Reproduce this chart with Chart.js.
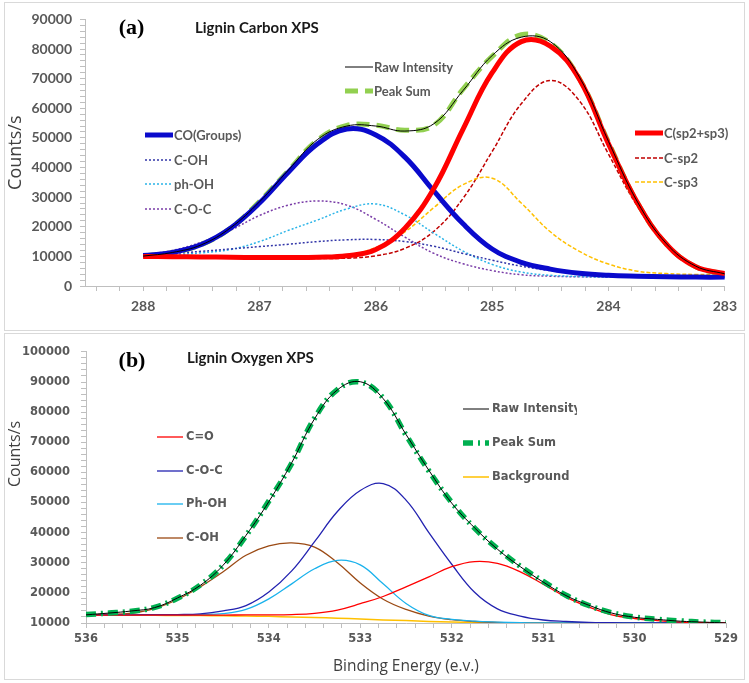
<!DOCTYPE html>
<html>
<head>
<meta charset="utf-8">
<script src="https://cdn.jsdelivr.net/npm/chart.js@4.4.1/dist/chart.umd.min.js"></script>
<style>
  html, body { margin: 0; padding: 0; background: #fff; }
  body { width: 749px; height: 683px; position: relative; overflow: hidden; }
  .panel { position: absolute; left: 4px; width: 741px; border: 1px solid #d9d9d9; box-sizing: border-box; background: #fff; }
  #panelA { top: 2px; height: 329px; }
  #panelB { top: 333px; height: 347px; }
  canvas { display: block; }
</style>
</head>
<body>
<div class="panel" id="panelA"><canvas id="carbonChart" width="739" height="327"></canvas></div>
<div class="panel" id="panelB"><canvas id="oxygenChart" width="739" height="345"></canvas></div>
<script>
// ---- (a) Lignin Carbon XPS, binding energy (eV) ----
const carbonEnergy = [288, 287.75, 287.5, 287.25, 287, 286.75, 286.5, 286.25, 286, 285.75, 285.5,
  285.25, 285, 284.75, 284.5, 284.25, 284, 283.75, 283.5, 283.25, 283];
const carbonRaw = [10100, 11300, 13900, 19600, 28400, 39200, 49500, 54000, 54000, 52300, 54800,
  66000, 77800, 84000, 82500, 70500, 48800, 28300, 14200, 6700, 4100];
const carbonPeakSum = [10200, 11200, 14000, 19500, 28500, 39000, 49300, 54200, 54300, 52600, 54300,
  66500, 77500, 84800, 82000, 70000, 48500, 28000, 14000, 6500, 4000];
const carbonCOGroups = [10300, 11300, 14000, 19500, 28000, 38500, 48000, 53000, 51000, 43500, 32000,
  21000, 12500, 8000, 5700, 4300, 3600, 3300, 3100, 3000, 3000];
const carbonCOH = [10500, 11000, 11700, 12500, 13300, 14100, 15000, 15600, 15700, 15000, 13400,
  11000, 8700, 6700, 5200, 4200, 3600, 3300, 3100, 3000, 3000];
const carbonPhOH = [10100, 10500, 11200, 12300, 15000, 18800, 22300, 26000, 27700, 24000, 17800,
  11800, 7300, 4700, 3600, 3200, 3000, 3000, 3000, 3000, 3000];
const carbonCOC = [10500, 12000, 14800, 18800, 23800, 27300, 28700, 27300, 22500, 16500, 11000,
  7500, 5200, 3800, 3300, 3100, 3000, 3000, 3000, 3000, 3000];
const carbonSp2Sp3 = [10000, 9900, 9800, 9700, 9600, 9600, 9700, 10200, 12300, 19500, 33000,
  53000, 72000, 82500, 81000, 69800, 48000, 28000, 14000, 6500, 4200];
const carbonSp2 = [9800, 9700, 9600, 9500, 9400, 9300, 9300, 9400, 10200, 12700, 18500,
  29600, 45400, 61500, 69400, 62500, 44500, 26800, 13600, 6200, 3900];
const carbonSp3 = [9700, 9700, 9600, 9600, 9600, 9600, 9800, 10300, 13000, 18300, 26500,
  34200, 36400, 28000, 18300, 11700, 7400, 5000, 4200, 3900, 3800];

// ---- (b) Lignin Oxygen XPS ----
const oxygenEnergy = [536, 535.75, 535.5, 535.25, 535, 534.75, 534.5, 534.25, 534, 533.75, 533.5,
  533.25, 533, 532.75, 532.5, 532.25, 532, 531.75, 531.5, 531.25, 531, 530.75, 530.5, 530.25,
  530, 529.75, 529.5, 529.25, 529];
const oxygenRaw = [12700, 13300, 14000, 15100, 18300, 22500, 29200, 39100, 50300, 63200, 77800,
  87400, 90100, 84500, 72600, 60700, 49800, 41600, 34500, 28700, 23600, 19100, 15900, 13300,
  11900, 11200, 10600, 10300, 10000];
const oxygenPeakSum = [12800, 13300, 13900, 15200, 18200, 22600, 29200, 39000, 50500, 63000, 78000,
  87500, 90000, 84700, 72400, 60500, 50000, 41500, 34700, 28800, 23800, 19200, 15800, 13400,
  12000, 11200, 10700, 10300, 10100];
const oxygenCdO = [12600, 12600, 12600, 12600, 12600, 12600, 12600, 12700, 12700, 12800, 13200,
  14300, 16400, 18800, 22000, 25300, 28700, 30400, 29800, 27000, 22900, 18600, 15300, 12700,
  11500, 10800, 10300, 10100, 10000];
const oxygenCOC = [12700, 12700, 12700, 12800, 12800, 13000, 14000, 15800, 20300, 27300, 37000,
  47000, 54000, 56300, 50800, 40000, 29500, 20200, 14700, 12300, 11000, 10500, 10200, 10100,
  10000, 10000, 10000, 10000, 10000];
const oxygenPhOH = [12700, 12700, 12700, 12700, 12700, 12800, 13100, 14500, 18000, 23000, 28000,
  30800, 29300, 23000, 16500, 12500, 11200, 10600, 10300, 10100, 10000, 10000, 10000, 10000,
  10000, 10000, 10000, 10000, 10000];
const oxygenCOH = [12800, 12900, 13300, 14800, 17800, 22000, 27000, 32500, 35600, 36600, 35200,
  30000, 23300, 17900, 14500, 12300, 11100, 10500, 10200, 10100, 10000, 10000, 10000, 10000,
  10000, 10000, 10000, 10000, 10000];
const oxygenBackground = [12600, 12600, 12600, 12550, 12500, 12450, 12400, 12300, 12200, 12000, 11800,
  11600, 11300, 11000, 10800, 10500, 10300, 10200, 10100, 10050, 10000, 10000, 10000, 10000,
  10000, 10000, 10000, 10000, 10000];

Chart.defaults.font.family = "Lato";
Chart.defaults.animation = false;

function points(xs, ys) {
  return xs.map((x, i) => ({ x: x, y: ys[i] }));
}

function line(label, xs, ys, color, width, dash) {
  return {
    label: label,
    data: points(xs, ys),
    borderColor: color,
    backgroundColor: color,
    borderWidth: width,
    borderDash: dash || [],
    pointRadius: 0,
    fill: false,
    tension: 0.4,
  };
}

function isWhole(v) {
  return Math.abs(v - Math.round(v)) < 1e-6;
}

// draws the in-plot labels and the Excel style legend blocks
function notesPlugin(cfg) {
  return {
    id: "notes",
    afterDatasetsDraw(chart) {
      const ctx = chart.ctx;
      ctx.save();
      ctx.textBaseline = "middle";
      cfg.texts.forEach((t) => {
        ctx.save();
        ctx.font = t.font;
        ctx.fillStyle = t.color;
        ctx.textAlign = t.align || "left";
        ctx.translate(t.x, t.y);
        if (t.rotate) ctx.rotate(t.rotate);
        ctx.fillText(t.text, 0, 0);
        ctx.restore();
      });
      cfg.legend.forEach((item) => {
        const ds = chart.data.datasets[item.index];
        ctx.save();
        ctx.beginPath();
        ctx.setLineDash(ds.borderDash || []);
        ctx.lineWidth = ds.borderWidth;
        ctx.strokeStyle = ds.borderColor;
        ctx.moveTo(item.x, item.y);
        ctx.lineTo(item.x + cfg.sample, item.y);
        ctx.stroke();
        ctx.setLineDash([]);
        if (item.clip) {
          ctx.beginPath();
          ctx.rect(0, 0, item.clip, chart.height);
          ctx.clip();
        }
        ctx.font = cfg.legendFont;
        ctx.fillStyle = "#595959";
        ctx.textAlign = "left";
        ctx.fillText(ds.label, item.x + cfg.sample + cfg.gap, item.y + 0.5);
        ctx.restore();
      });
      ctx.restore();
    },
  };
}

function axis(opts) {
  return {
    type: "linear",
    min: opts.min,
    max: opts.max,
    reverse: !!opts.reverse,
    afterFit: opts.fit,
    ticks: {
      stepSize: opts.step,
      autoSkip: false,
      maxRotation: 0,
      includeBounds: false,
      padding: opts.pad,
      color: "#595959",
      font: opts.font,
      callback: opts.label,
    },
    grid: { drawOnChartArea: false, tickLength: 5, color: "#BFBFBF" },
    border: { color: "#BFBFBF" },
    title: opts.title || { display: false },
  };
}

// ---------- chart (a) ----------
const tickFontA = { family: "Lato", size: 14, weight: "bold" };
new Chart(document.getElementById("carbonChart").getContext("2d"), {
  type: "line",
  data: {
    datasets: [
      line("Raw Intensity", carbonEnergy, carbonRaw, "#000000", 1),
      line("C(sp2+sp3)", carbonEnergy, carbonSp2Sp3, "#FF0000", 5),
      line("CO(Groups)", carbonEnergy, carbonCOGroups, "#0A0ACC", 5),
      line("Peak Sum", carbonEnergy, carbonPeakSum, "#92D050", 5, [13, 7]),
      line("C-sp3", carbonEnergy, carbonSp3, "#FFC000", 1.5, [4, 2]),
      line("C-OH", carbonEnergy, carbonCOH, "#3236A8", 1.5, [2, 2]),
      line("ph-OH", carbonEnergy, carbonPhOH, "#2AB4E8", 1.5, [2, 2]),
      line("C-O-C", carbonEnergy, carbonCOC, "#7A3DA8", 1.5, [2, 2]),
      line("C-sp2", carbonEnergy, carbonSp2, "#C00000", 1.5, [4, 2]),
    ],
  },
  options: {
    responsive: false,
    devicePixelRatio: 1,
    layout: { padding: { left: 0, top: 11, right: 15, bottom: 0 } },
    plugins: { legend: { display: false }, tooltip: { enabled: false } },
    scales: {
      x: axis({
        min: 283, max: 288.5, reverse: true, step: 0.2, pad: 7, font: tickFontA,
        fit: (s) => { s.height = 44; },
        label: (v) => (isWhole(v) ? String(Math.round(v)) : ""),
      }),
      y: axis({
        min: 0, max: 90000, step: 2000, pad: 8, font: tickFontA,
        fit: (s) => { s.width = 80; },
        label: (v) => (v % 10000 === 0 ? String(v) : ""),
        title: {
          display: true, text: "Counts/s", color: "#404040", padding: 0,
          font: { family: "Open Sans", size: 18, weight: "normal" },
        },
      }),
    },
  },
  plugins: [notesPlugin({
    legendFont: "bold 13px Lato",
    sample: 28,
    gap: 1,
    texts: [
      { text: "(a)", x: 126.5, y: 25, font: "bold 22px 'Liberation Serif'", color: "#000", align: "center" },
      { text: "Lignin Carbon XPS", x: 190, y: 25, font: "bold 15px Lato", color: "#1a1a1a" },
    ],
    legend: [
      { index: 0, x: 340, y: 64 },
      { index: 3, x: 340, y: 88 },
      { index: 2, x: 140, y: 132 },
      { index: 5, x: 140, y: 157 },
      { index: 6, x: 140, y: 181 },
      { index: 7, x: 140, y: 206 },
      { index: 1, x: 630, y: 130 },
      { index: 8, x: 630, y: 155 },
      { index: 4, x: 630, y: 179 },
    ],
  })],
});

// ---------- chart (b) ----------
const tickFontB = { family: "DejaVu Sans", size: 11.5, weight: "bold" };
new Chart(document.getElementById("oxygenChart").getContext("2d"), {
  type: "line",
  data: {
    datasets: [
      line("Raw Intensity", oxygenEnergy, oxygenRaw, "#000000", 1),
      line("Peak Sum", oxygenEnergy, oxygenPeakSum, "#00B050", 5.5, [10, 5, 2, 5]),
      line("C=O", oxygenEnergy, oxygenCdO, "#FF0000", 1.3),
      line("C-O-C", oxygenEnergy, oxygenCOC, "#2222B0", 1.3),
      line("Ph-OH", oxygenEnergy, oxygenPhOH, "#1AB2EC", 1.3),
      line("C-OH", oxygenEnergy, oxygenCOH, "#9B4A14", 1.3),
      line("Background", oxygenEnergy, oxygenBackground, "#FFC000", 1.5),
    ],
  },
  options: {
    responsive: false,
    devicePixelRatio: 1,
    layout: { padding: { left: 0, top: 8, right: 18, bottom: 0 } },
    plugins: { legend: { display: false }, tooltip: { enabled: false } },
    scales: {
      x: axis({
        min: 529, max: 536, reverse: true, step: 0.2, pad: 4, font: tickFontB,
        fit: (s) => { s.height = 56; },
        label: (v) => (isWhole(v) ? String(Math.round(v)) : ""),
        title: {
          display: true, text: "Binding Energy (e.v.)", color: "#404040",
          padding: { top: 0, bottom: 3 },
          font: { family: "Open Sans", size: 15.5, weight: "normal" },
        },
      }),
      y: axis({
        min: 10000, max: 100000, step: 2000, pad: 11, font: tickFontB,
        fit: (s) => { s.width = 81; },
        label: (v) => (v % 10000 === 0 ? String(v) : ""),
      }),
    },
  },
  plugins: [notesPlugin({
    legendFont: "bold 11.5px 'DejaVu Sans'",
    sample: 26,
    gap: 3,
    texts: [
      { text: "(b)", x: 127, y: 27, font: "bold 22px 'Liberation Serif'", color: "#000", align: "center" },
      { text: "Lignin Oxygen XPS", x: 182, y: 24, font: "bold 15px Lato", color: "#1a1a1a" },
      { text: "Counts/s", x: 10, y: 120, font: "16px 'Open Sans'", color: "#404040", align: "center", rotate: -Math.PI / 2 },
    ],
    legend: [
      { index: 0, x: 458, y: 75, clip: 572 },
      { index: 1, x: 458, y: 109 },
      { index: 6, x: 458, y: 143 },
      { index: 2, x: 152, y: 103 },
      { index: 3, x: 152, y: 137 },
      { index: 4, x: 152, y: 170 },
      { index: 5, x: 152, y: 204 },
    ],
  })],
});
</script>
</body>
</html>
